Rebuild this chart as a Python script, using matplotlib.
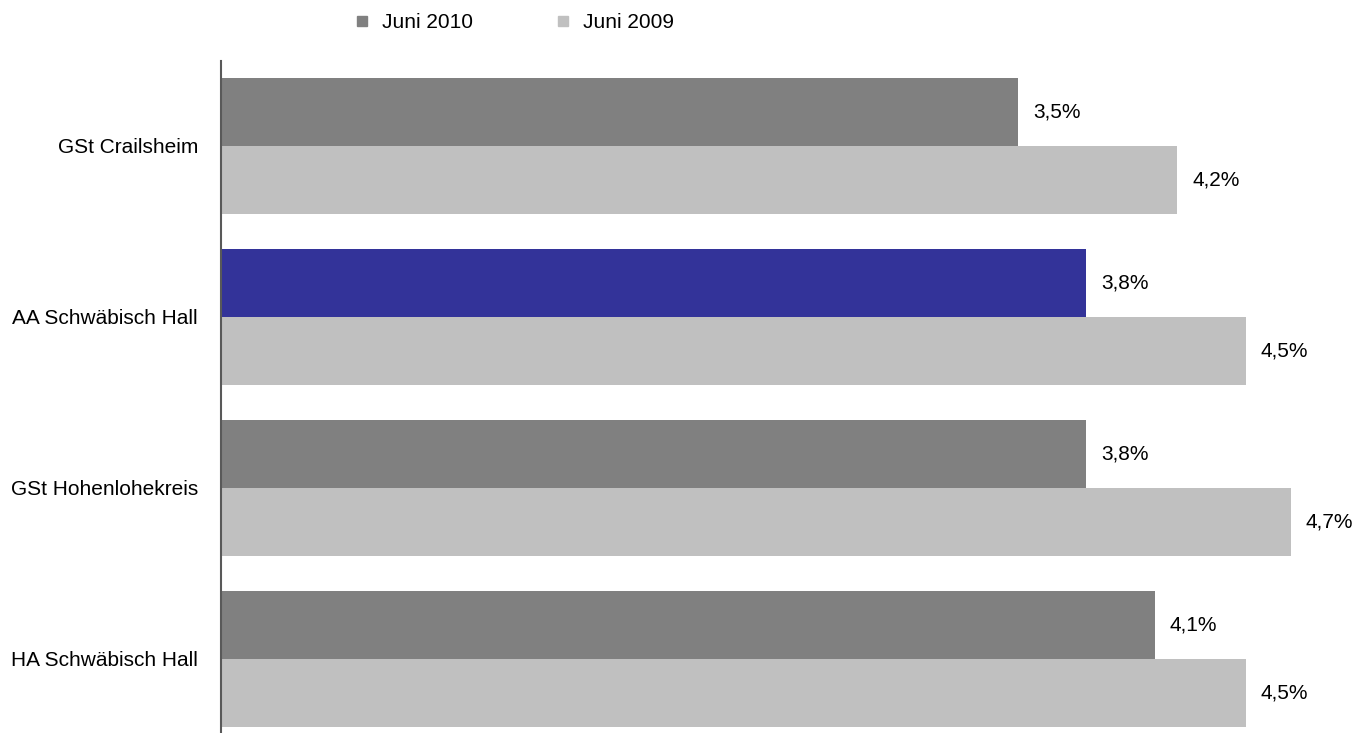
import matplotlib
matplotlib.use("Agg")
import matplotlib.pyplot as plt
from matplotlib.lines import Line2D
import numpy as np

plt.rcParams['font.family'] = ['Liberation Sans', 'DejaVu Sans']

categories = ["GSt Crailsheim", "AA Schwäbisch Hall", "GSt Hohenlohekreis", "HA Schwäbisch Hall"]
juni_2010 = [3.5, 3.8, 3.8, 4.1]
juni_2009 = [4.2, 4.5, 4.7, 4.5]
series_names = ["Juni 2010", "Juni 2009"]

dark = "#808080"
light = "#c0c0c0"
highlight = "#333399"

fig = plt.figure(figsize=(13.66, 7.33), dpi=100)
ax = fig.add_axes([221 / 1366, 0, 1145 / 1366, 672 / 733])

y = np.arange(len(categories))
h = 68 / 171
colors_2010 = [highlight if c == "AA Schwäbisch Hall" else dark for c in categories]

ax.barh(y - h / 2, juni_2010, height=h, color=colors_2010)
ax.barh(y + h / 2, juni_2009, height=h, color=light)

for yi, v in zip(y, juni_2010):
    ax.text(v + 0.065, yi - h / 2, f"{v:.1f}%".replace(".", ","), va="center", ha="left", fontsize=15)
for yi, v in zip(y, juni_2009):
    ax.text(v + 0.065, yi + h / 2, f"{v:.1f}%".replace(".", ","), va="center", ha="left", fontsize=15)

ax.set_xlim(0, 1145 / 227.7)
ax.set_ylim(-0.497 + 672 / 171, -0.497)
ax.set_yticks(y)
ax.set_yticklabels(categories, fontsize=15)
ax.tick_params(axis="y", length=0, pad=16.5)
ax.set_xticks([])
for s in ["top", "right", "bottom"]:
    ax.spines[s].set_visible(False)
ax.spines["left"].set_color("#595959")
ax.spines["left"].set_linewidth(1.5)

handles = [Line2D([], [], marker="s", linestyle="none", markersize=6.5, color=c) for c in (dark, light)]
fig.legend(handles, series_names, loc="center left", bbox_to_anchor=(355 / 1366, 1 - 22.5 / 733),
           ncol=2, frameon=False, fontsize=15, handlelength=0.7, handletextpad=0.58,
           columnspacing=4.0, borderpad=0, borderaxespad=0)

fig.savefig("out.png", dpi=100)
